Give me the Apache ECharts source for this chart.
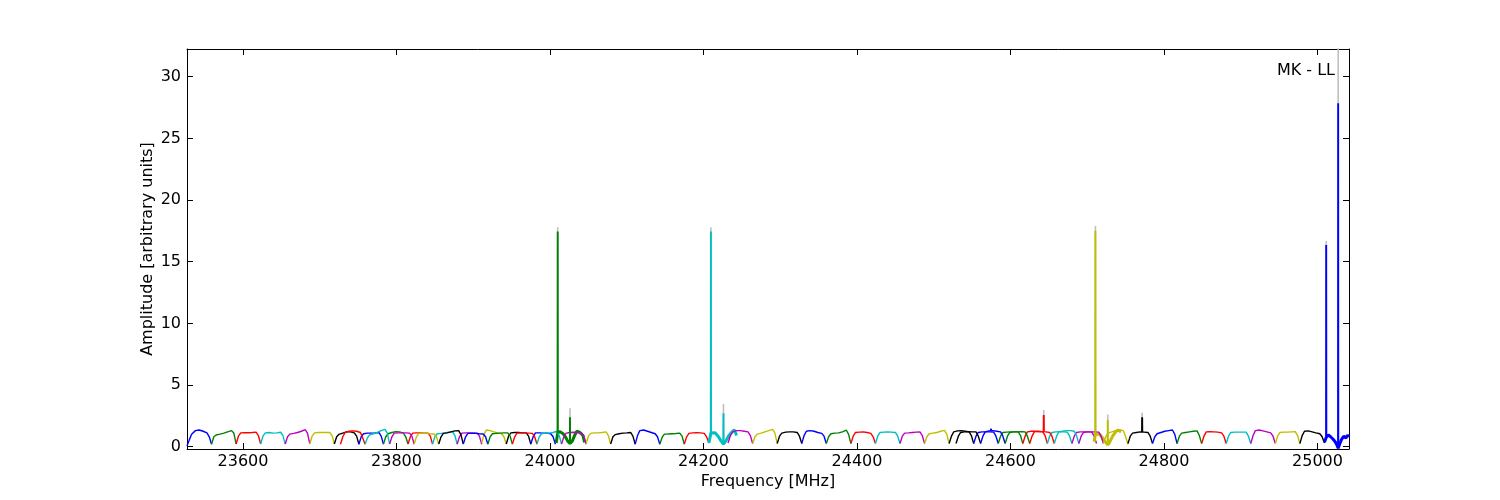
<!DOCTYPE html>
<html>
<head>
<meta charset="utf-8">
<script src="https://cdn.jsdelivr.net/npm/echarts@6/dist/echarts.min.js"></script>
<style>
html,body{margin:0;padding:0;background:#fff;}
#chart{width:1500px;height:500px;}
</style>
</head>
<body>
<div id="chart"></div>
<script>
// ---- data ----
const palette = ['#0000ff','#008000','#ff0000','#00bfbf','#bf00bf','#bfbf00','#000000'];
const xTicks = [23600, 23800, 24000, 24200, 24400, 24600, 24800, 25000];
const yTicks = [0, 5, 10, 15, 20, 25, 30];
// channel offsets within a 32 MHz subband (MHz)
const bandOffsets = [0, 3, 6, 11, 16, 21, 26, 29, 32];
// subband start frequencies (MHz), in plotting order
const bandStarts = [
  23527, 23559, 23591, 23623, 23655, 23687, 23719, 23751, 23783, 23815, 23847, 23879, 23911, 23943, 23975, 24007,
  23727, 23759, 23791, 23823, 23855, 23887, 23919, 23951, 23983, 24015, 24047, 24079, 24111, 24143, 24175, 24207,
  24232, 24264, 24296, 24328, 24360, 24392, 24424, 24456, 24488, 24520, 24552, 24584, 24616, 24648, 24680, 24709,
  24529, 24561, 24593, 24625, 24657, 24689, 24721, 24753, 24785, 24817, 24849, 24881, 24913, 24945, 24977, 25009
];
// amplitudes at bandOffsets (null = detailed band below)
const bandLevels = [
  [0.05,0.55,1.0,1.3,1.35,1.25,1.12,0.8,0.2],
  [0.2,0.8,0.95,1.02,1.1,1.2,1.3,1.1,0.22],
  [0.22,0.85,1.12,1.14,1.13,1.15,1.18,0.9,0.22],
  [0.22,0.85,1.12,1.15,1.1,1.12,1.17,0.9,0.2],
  [0.22,0.8,1.02,1.08,1.15,1.25,1.38,1.1,0.22],
  [0.22,0.85,1.12,1.15,1.15,1.15,1.15,0.9,0.22],
  [0.22,0.8,1.0,1.1,1.2,1.2,1.12,0.85,0.2],
  [0.2,0.8,1.05,1.1,1.1,1.12,1.15,0.85,0.2],
  [0.22,0.8,1.05,1.15,1.22,1.2,1.1,0.8,0.22],
  [0.22,0.8,1.1,1.12,1.12,1.1,1.1,0.85,0.2],
  [0.22,0.8,1.05,1.08,1.12,1.18,1.22,0.9,0.22],
  [0.2,0.8,1.1,1.12,1.12,1.12,1.1,0.85,0.2],
  [0.3,1.0,1.35,1.3,1.2,1.12,1.05,0.8,0.22],
  [0.22,0.85,1.12,1.15,1.15,1.12,1.12,0.85,0.2],
  [0.22,0.8,1.12,1.12,1.1,1.1,1.05,0.8,0.2],
  null,
  [0.2,0.8,1.15,1.25,1.28,1.25,1.15,0.7,0.2],
  [0.2,0.7,0.95,1.05,1.15,1.3,1.4,1.1,0.2],
  [0.22,0.8,1.1,1.12,1.12,1.12,1.1,0.85,0.2],
  [0.22,0.8,1.08,1.1,1.08,1.05,1.03,0.8,0.2],
  [0.22,0.8,1.08,1.12,1.2,1.28,1.3,0.95,0.2],
  [0.22,0.8,1.08,1.08,1.08,1.05,1.03,0.8,0.2],
  [0.22,0.8,1.05,1.08,1.1,1.12,1.12,0.85,0.2],
  [0.22,0.8,1.1,1.12,1.12,1.1,1.08,0.8,0.2],
  [0.22,0.8,1.05,1.1,1.1,1.15,1.25,0.9,0.2],
  [0.22,0.8,1.1,1.15,1.17,1.15,1.12,0.85,0.2],
  [0.24,0.85,1.08,1.12,1.12,1.15,1.2,0.9,0.22],
  [0.22,0.8,0.98,1.05,1.1,1.12,1.15,0.85,0.2],
  [0.2,0.9,1.3,1.35,1.25,1.15,1.05,0.8,0.2],
  [0.2,0.75,1.02,1.03,1.05,1.07,1.1,0.85,0.2],
  [0.22,0.8,1.08,1.12,1.14,1.12,1.08,0.8,0.3],
  null,
  [0.3,0.9,1.2,1.3,1.3,1.25,1.2,0.9,0.25],
  [0.25,0.8,1.02,1.1,1.2,1.3,1.4,1.1,0.25],
  [0.25,0.85,1.1,1.18,1.2,1.2,1.15,0.85,0.25],
  [0.25,0.9,1.25,1.3,1.25,1.15,1.08,0.85,0.25],
  [0.25,0.8,1.05,1.1,1.12,1.2,1.35,1.0,0.25],
  [0.25,0.85,1.15,1.18,1.2,1.15,1.08,0.8,0.25],
  [0.25,0.85,1.15,1.18,1.2,1.18,1.15,0.85,0.25],
  [0.25,0.85,1.1,1.12,1.15,1.18,1.2,0.9,0.25],
  [0.25,0.8,1.05,1.1,1.15,1.25,1.32,1.0,0.25],
  [0.25,0.85,1.2,1.28,1.3,1.25,1.2,0.9,0.25],
  [0.25,0.85,1.15,1.2,1.2,1.2,1.18,0.85,0.25],
  [0.25,0.85,1.15,1.18,1.2,1.2,1.2,0.9,0.25],
  [0.25,0.85,1.2,1.25,1.25,1.22,1.2,0.9,0.25],
  [0.25,0.85,1.15,1.2,1.22,1.2,1.18,0.85,0.25],
  [0.25,0.85,1.15,1.2,1.2,1.2,1.18,0.85,0.25],
  null,
  [0.25,0.85,1.15,1.2,1.22,1.2,1.2,0.85,0.25],
  [0.25,0.85,1.2,1.28,1.3,1.25,1.2,0.85,0.25],
  [0.25,0.85,1.15,1.2,1.2,1.22,1.2,0.85,0.25],
  [0.25,0.85,1.2,1.25,1.22,1.2,1.15,0.85,0.25],
  [0.25,0.85,1.2,1.25,1.3,1.3,1.25,0.9,0.25],
  [0.25,0.85,1.15,1.2,1.2,1.2,1.18,0.85,0.25],
  [0.3,0.8,1.1,1.2,1.3,1.35,1.3,0.8,0.2],
  [0.25,0.85,1.1,1.15,1.2,1.18,1.15,0.85,0.25],
  [0.25,0.8,1.05,1.15,1.25,1.3,1.35,1.0,0.25],
  [0.25,0.85,1.1,1.15,1.2,1.25,1.28,0.9,0.25],
  [0.25,0.85,1.2,1.22,1.2,1.18,1.12,0.85,0.25],
  [0.25,0.85,1.15,1.18,1.18,1.18,1.18,0.85,0.25],
  [0.25,0.9,1.3,1.35,1.28,1.2,1.12,0.85,0.25],
  [0.25,0.85,1.15,1.18,1.18,1.2,1.22,0.9,0.25],
  [0.25,0.9,1.25,1.28,1.2,1.12,1.05,0.8,0.3],
  null
];
// finely sampled (noisy) subbands: [frequency, amplitude]
const detailGreen = [[24008,0.3],[24010,1.1],[24013,1.22],[24017,1.05],[24020,0.8],[24023,0.45],[24026,0.25],[24029,0.45],[24032,0.9],[24035,1.25],[24037,1.3],[24039,1.15],[24041,1.3],[24043,0.9],[24045,0.35]];
const detailCyan = [[24207,0.3],[24209.6,1.1],[24212,1.2],[24215,1.12],[24219,0.85],[24223,0.45],[24226,0.2],[24229,0.45],[24233,0.9],[24237,1.2],[24240,1.35],[24242,1.1],[24243,0.9]];
const detailYellow = [[24709,0.4],[24710.6,1.0],[24713,1.12],[24716,1.0],[24720,0.7],[24724,0.35],[24726.7,0.14],[24729,0.35],[24733,0.85],[24737,1.2],[24740,1.35],[24742,1.25],[24744,1.2]];
const detailBlue = [[25009,0.35],[25011.3,0.75],[25014,0.95],[25017,0.8],[25020,0.62],[25023,0.4],[25025.5,0.1],[25026.9,-0.13],[25028.5,0.15],[25031,0.55],[25034,0.85],[25037,0.7],[25039,0.92],[25041,0.8]];
const detailBands = {15: detailGreen, 31: detailCyan, 47: detailYellow, 63: detailBlue};
// spikes: [band index, frequency, base, peak, unflagged (grey) peak]
const spikes = [
  [15, 24010, 1.1, 17.44, 17.8],
  [15, 24026, 0.25, 2.38, 3.11],
  [31, 24209.6, 1.1, 17.44, 17.8],
  [31, 24226, 0.2, 2.7, 3.46],
  [47, 24710.6, 1.0, 17.5, 17.9],
  [47, 24726.7, 0.14, 2.17, 2.6],
  [54, 24742.8, 1.3, 1.3, 1.42],
  [49, 24574.6, 1.28, 1.45, 1.5],
  [51, 24643.3, 1.2, 2.57, 2.98],
  [55, 24771.5, 1.18, 2.38, 2.76],
  [63, 25011.3, 0.75, 16.36, 16.68],
  [63, 25026.9, -0.13, 27.85, 33]
];

// ---- chart ----
const FONT = 'DejaVu Sans';
const chart = echarts.init(document.getElementById('chart'), null, {renderer: 'canvas'});
const series = [];
const W = 0.15;
spikes.forEach(s => {
  series.push({
    type: 'line', silent: true, animation: false, symbol: 'none', z: 1,
    lineStyle: {color: '#c0c0c0', width: 1.6},
    data: [[s[1] - W, s[2]], [s[1], s[4]], [s[1] + W, s[2]]]
  });
});
bandStarts.forEach((st, n) => {
  const lv = bandLevels[n];
  const data = lv ? bandOffsets.map((o, i) => [st + o, lv[i]]) : detailBands[n];
  series.push({
    type: 'line', silent: true, animation: false, symbol: 'none', z: 2,
    lineStyle: {color: palette[n % 7], width: lv ? 1.4 : 3},
    data: data
  });
});
spikes.forEach(s => {
  series.push({
    type: 'line', silent: true, animation: false, symbol: 'none', z: 3,
    lineStyle: {color: palette[s[0] % 7], width: 1.9},
    data: [[s[1] - W, s[2]], [s[1], s[3]], [s[1] + W, s[2]]]
  });
});

const axLine = {show: true, onZero: false, lineStyle: {color: '#000', width: 1}};
const tickStyle = {color: '#000', width: 1};
const option = {
  backgroundColor: '#fff',
  animation: false,
  grid: {left: 187, right: 151, top: 49, bottom: 51, containLabel: false},
  xAxis: [{
    type: 'value', min: 23527, max: 25041, position: 'bottom',
    axisLine: axLine,
    axisTick: {show: true, inside: true, length: 6, customValues: xTicks, lineStyle: tickStyle},
    axisLabel: {customValues: xTicks, color: '#000', fontSize: 16, fontFamily: FONT, margin: 5, formatter: v => String(v)},
    splitLine: {show: false},
    name: 'Frequency [MHz]', nameLocation: 'middle', nameGap: 25, nameMoveOverlap: false,
    nameTextStyle: {color: '#000', fontSize: 16, fontFamily: FONT}
  }, {
    type: 'value', min: 23527, max: 25041, position: 'top',
    axisLine: axLine,
    axisTick: {show: true, inside: true, length: 6, customValues: xTicks, lineStyle: tickStyle},
    axisLabel: {show: false},
    splitLine: {show: false}
  }],
  yAxis: [{
    type: 'value', min: -0.19, max: 32.25, position: 'left',
    axisLine: axLine,
    axisTick: {show: true, inside: true, length: 6, customValues: yTicks, lineStyle: tickStyle},
    axisLabel: {customValues: yTicks, color: '#000', fontSize: 16, fontFamily: FONT, margin: 6},
    splitLine: {show: false},
    name: 'Amplitude [arbitrary units]', nameLocation: 'middle', nameGap: 31, nameMoveOverlap: false,
    nameTextStyle: {color: '#000', fontSize: 16, fontFamily: FONT}
  }, {
    type: 'value', min: -0.19, max: 32.25, position: 'right',
    axisLine: axLine,
    axisTick: {show: true, inside: true, length: 6, customValues: yTicks, lineStyle: tickStyle},
    axisLabel: {show: false},
    splitLine: {show: false}
  }],
  graphic: [{
    type: 'text', right: 165, top: 63, z: 10,
    style: {text: 'MK - LL', fill: '#000', font: '16px "DejaVu Sans"'}
  }],
  series: series
};
chart.setOption(option);
</script>
</body>
</html>
